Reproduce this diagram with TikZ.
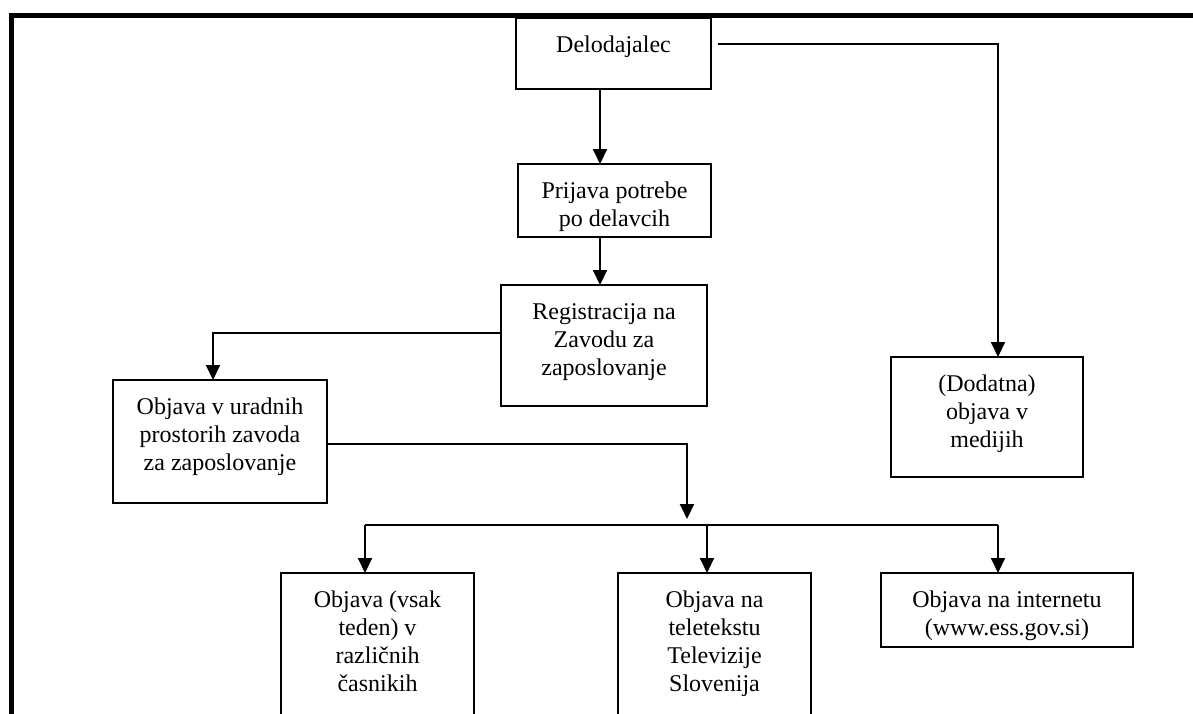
\documentclass[tikz,border=0pt]{standalone}
\usepackage{fontspec}
\setmainfont{Liberation Serif}
\usetikzlibrary{arrows.meta}
\newcommand{\bxt}[3]{\parbox[c][#2][t]{#1}{\centering\rule{0pt}{34pt}#3\par}}
\tikzset{
  box/.style={draw, line width=2pt, inner sep=0pt, outer sep=0pt, font=\fontsize{24}{28}\selectfont},
  conn/.style={line width=2pt},
  arr/.style={line width=2pt, -{Triangle[width=14pt,length=15pt]}},
  frame/.style={line width=5.5pt, line join=miter}
}
\begin{document}
\begin{tikzpicture}[x=1pt,y=-1pt]
\useasboundingbox (0,0) rectangle (1193,713);
\clip (0,0) rectangle (1193,713);
\fill[white] (0,0) rectangle (1193,713);
% frame
\draw[frame] (11.5,730) -- (11.5,15.5) -- (1210,15.5);
% boxes
\node[box] (del) at (613.5,53.5) {\bxt{195pt}{71pt}{Delodajalec}};
\node[box] (pri) at (614.5,200.5) {\bxt{193pt}{73pt}{Prijava potrebe\\po delavcih}};
\node[box] (reg) at (604,345.5) {\bxt{206pt}{121pt}{Registracija na\\Zavodu za\\zaposlovanje}};
\node[box] (obj) at (220,441.5) {\bxt{214pt}{123pt}{Objava v uradnih\\prostorih zavoda\\za zaposlovanje}};
\node[box] (ded) at (987,417) {\bxt{192pt}{120pt}{(Dodatna)\\objava v\\medijih}};
\node[box] (b1) at (377.5,651.5) {\bxt{193pt}{157pt}{Objava (vsak\\teden) v\\različnih\\časnikih}};
\node[box] (b2) at (714.5,651.5) {\bxt{193pt}{157pt}{Objava na\\teletekstu\\Televizije\\Slovenija}};
\node[box] (b3) at (1007,610) {\bxt{252pt}{74pt}{Objava na internetu\\(www.ess.gov.si)}};
% helper coordinates
\coordinate (cA) at (600,0);
\coordinate (dS) at (718,44);
\coordinate (dC) at (998,44);
\coordinate (rL) at (213,333);
\coordinate (oR) at (687,444);
\coordinate (oT) at (687,519);
\coordinate (busL) at (365,525);
\coordinate (busM) at (707,525);
\coordinate (busR) at (998,525);
% connectors
\draw[arr] (dS) -- (dC) -- (ded.north -| dC);
\draw[arr] (del.south -| cA) -- (pri.north -| cA);
\draw[arr] (pri.south -| cA) -- (reg.north -| cA);
\draw[arr] (reg.west |- rL) -- (rL) -- (obj.north -| rL);
\draw[arr] (obj.east |- oR) -- (oR) -- (oT);
\draw[conn] (busL) -- (busR);
\draw[arr] (busL) -- (b1.north -| busL);
\draw[arr] (busM) -- (b2.north -| busM);
\draw[arr] (busR) -- (b3.north -| busR);
\end{tikzpicture}
\end{document}
